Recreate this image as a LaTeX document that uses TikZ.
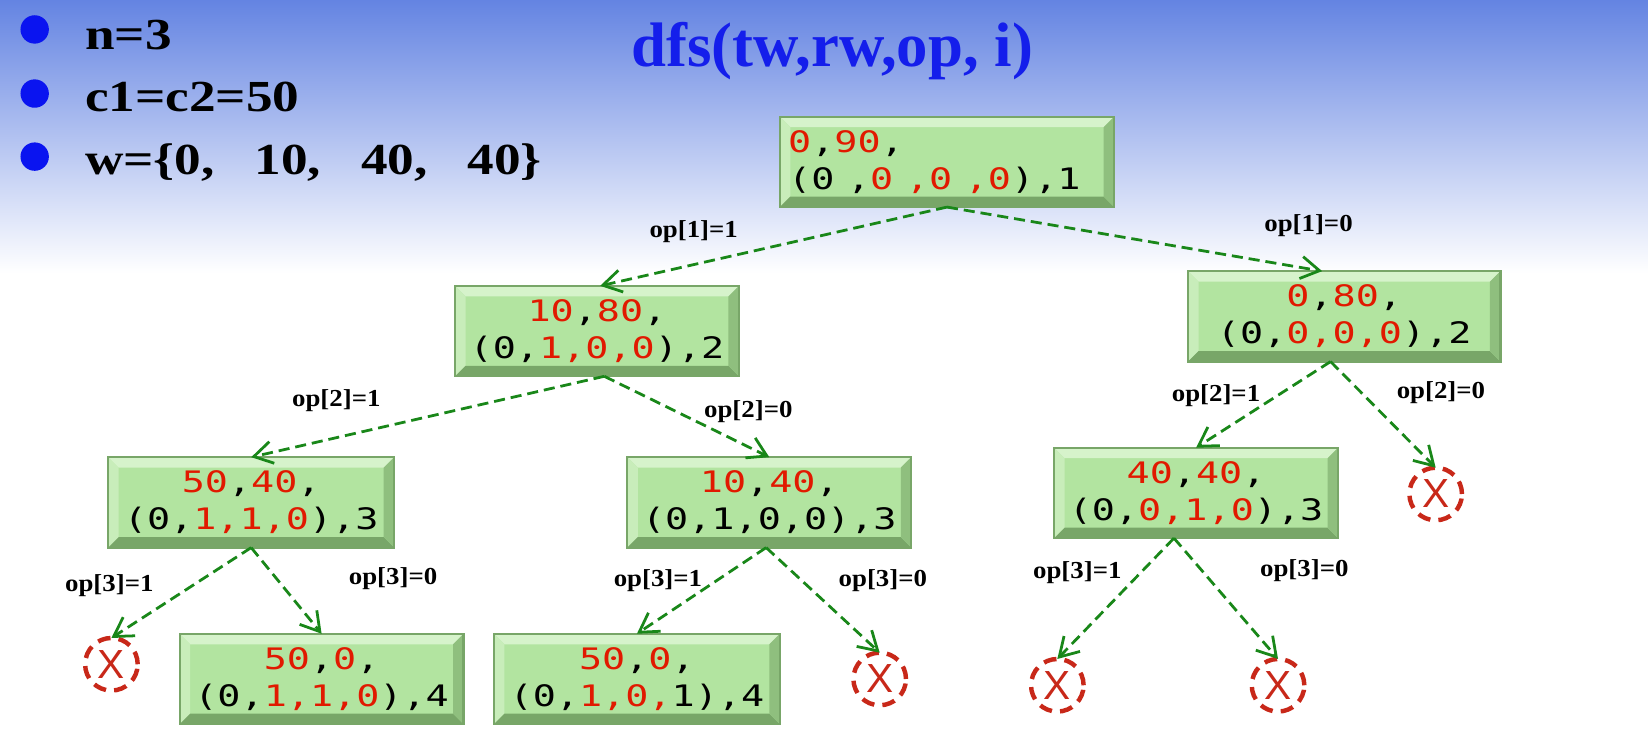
\documentclass[tikz,border=0pt]{standalone}
\usepackage{fontspec}
\setmainfont{Liberation Serif}
\newfontfamily\boxfont[FakeStretch=1.3]{DejaVu Sans Mono}
\newfontfamily\opfont[FakeStretch=1.1]{Liberation Serif}
\newfontfamily\headfont[FakeStretch=1.2]{Liberation Serif}
\newfontfamily\xfont{Liberation Sans}
\usetikzlibrary{arrows.meta}

\definecolor{numred}{RGB}{225,25,0}
\definecolor{boxgreen}{RGB}{178,228,160}
\definecolor{boxlight}{RGB}{214,243,203}
\definecolor{boxdark}{RGB}{120,166,104}
\definecolor{edgegreen}{RGB}{25,135,25}
\definecolor{xred}{RGB}{200,40,25}
\definecolor{titleblue}{RGB}{20,30,235}
\definecolor{dotblue}{RGB}{10,20,240}
\definecolor{bgblue}{RGB}{100,132,226}
\definecolor{bgmid}{RGB}{190,208,245}

\newcommand{\rd}[1]{\textcolor{numred}{#1}}
\newcommand{\gap}{\kern0.12cm}
\newcommand{\bev}{0.1cm}

\begin{document}
\begin{tikzpicture}[x=0.01cm,y=-0.01cm,inner sep=0pt,outer sep=0pt,
box/.style={rectangle,draw=boxdark,line width=0.6pt,fill=boxgreen,minimum width=2.7cm,minimum height=0.86cm,
  inner xsep=0.08cm,align=center,font=\boxfont\fontsize{8}{10}\selectfont,
  path picture={
    \fill[boxlight] (path picture bounding box.north west) -- (path picture bounding box.north east)
      -- ([shift={(-\bev,-\bev)}]path picture bounding box.north east) -- ([shift={(\bev,-\bev)}]path picture bounding box.north west) -- cycle;
    \fill[boxlight!60!boxgreen] (path picture bounding box.north west) -- (path picture bounding box.south west)
      -- ([shift={(\bev,\bev)}]path picture bounding box.south west) -- ([shift={(\bev,-\bev)}]path picture bounding box.north west) -- cycle;
    \fill[boxdark] (path picture bounding box.south west) -- (path picture bounding box.south east)
      -- ([shift={(-\bev,\bev)}]path picture bounding box.south east) -- ([shift={(\bev,\bev)}]path picture bounding box.south west) -- cycle;
    \fill[boxdark!60!boxgreen] (path picture bounding box.south east) -- (path picture bounding box.north east)
      -- ([shift={(-\bev,-\bev)}]path picture bounding box.north east) -- ([shift={(-\bev,\bev)}]path picture bounding box.south east) -- cycle;
  }},
dead/.style={circle,draw=xred,line width=1.2pt,dash pattern=on 3.5pt off 2.2pt,minimum size=0.5cm,text=xred,
  font=\xfont\fontsize{11}{11}\selectfont},
branch/.style={draw=edgegreen,line width=0.75pt,dash pattern=on 3pt off 1.6pt,-{Straight Barb[length=5pt,width=6pt]}},
oplab/.style={font=\opfont\fontsize{6.6}{7}\selectfont\bfseries},
dot/.style={circle,fill=dotblue,minimum size=0.27cm},
bultext/.style={anchor=base west,font=\headfont\fontsize{12}{14}\selectfont\bfseries}]

\useasboundingbox (0,0) rectangle (1568,705);
\shade[top color=bgblue,middle color=bgmid,bottom color=white] (0,0) rectangle (1568,260);

\draw (33,28) node[dot] (d1) {};
\draw (33,89) node[dot] (d2) {};
\draw (33,149) node[dot] (d3) {};
\draw (81,47) node[bultext] (n) {n=3};
\draw (81,106) node[bultext] (c) {c1=c2=50};
\draw (81,166) node[bultext] (w) {w=\{0,\hspace{0.38cm}10,\hspace{0.38cm}40,\hspace{0.38cm}40\}};
\draw (601,63) node[anchor=base west,text=titleblue,font=\fontsize{17}{20}\selectfont\bfseries] (title) {dfs(tw,rw,op, i)};

\draw (901,154) node[box,align=left,text width=3.02cm] (root) {\rd{0},\rd{90},\\(0\gap,\rd{0\gap,0\gap,0}),1};
\draw (568,315) node[box] (L1) {\rd{10},\rd{80},\\(0,\rd{1,0,0}),2};
\draw (1279,301) node[box,minimum width=2.97cm] (R1) {\rd{0},\rd{80},\\(0,\rd{0,0,0}),2};
\draw (239,478) node[box,minimum width=2.72cm] (LL) {\rd{50},\rd{40},\\(0,\rd{1,1,0}),3};
\draw (732,478) node[box] (LR) {\rd{10},\rd{40},\\(0,1,0,0),3};
\draw (1138,469) node[box] (RL) {\rd{40},\rd{40},\\(0,\rd{0,1,0}),3};
\draw (306,646) node[box] (LLR) {\rd{50},\rd{0},\\(0,\rd{1,1,0}),4};
\draw (606,646) node[box,minimum width=2.72cm] (LRL) {\rd{50},\rd{0},\\(0,\rd{1,0,}1),4};

\draw (106,632) node[dead] (LLL) {X};
\draw (837,646) node[dead] (LRR) {X};
\draw (1006,652) node[dead] (RLL) {X};
\draw (1216,652) node[dead] (RLR) {X};
\draw (1366,470) node[dead] (RR) {X};

\draw[branch] (root.south) -- ([xshift=0.03cm]L1.north);
\draw[branch] (root.south) -- ([xshift=-0.21cm]R1.north);
\draw[branch] ([xshift=0.07cm]L1.south) -- (LL.north);
\draw[branch] ([xshift=0.07cm]L1.south) -- (LR.north);
\draw[branch] ([xshift=-0.13cm]R1.south) -- (RL.north);
\draw[branch] ([xshift=-0.13cm]R1.south) -- (RR.north);
\draw[branch] (LL.south) -- (LLL.north);
\draw[branch] (LL.south) -- (LLR.north);
\draw[branch] ([xshift=-0.03cm]LR.south) -- (LRL.north);
\draw[branch] ([xshift=-0.03cm]LR.south) -- (LRR.north);
\draw[branch] ([xshift=-0.21cm]RL.south) -- (RLL.north);
\draw[branch] ([xshift=-0.21cm]RL.south) -- (RLR.north);

\draw (660,220) node[oplab] (e1) {op[1]=1};
\draw (1245,215) node[oplab] (e2) {op[1]=0};
\draw (320,381) node[oplab] (e3) {op[2]=1};
\draw (712,392) node[oplab] (e4) {op[2]=0};
\draw (1157,376) node[oplab] (e5) {op[2]=1};
\draw (1371,374) node[oplab] (e6) {op[2]=0};
\draw (104,557) node[oplab] (e7) {op[3]=1};
\draw (374,551) node[oplab] (e8) {op[3]=0};
\draw (626,552) node[oplab] (e9) {op[3]=1};
\draw (840,552) node[oplab] (e10) {op[3]=0};
\draw (1025,545) node[oplab] (e11) {op[3]=1};
\draw (1241,543) node[oplab] (e12) {op[3]=0};
\end{tikzpicture}
\end{document}
